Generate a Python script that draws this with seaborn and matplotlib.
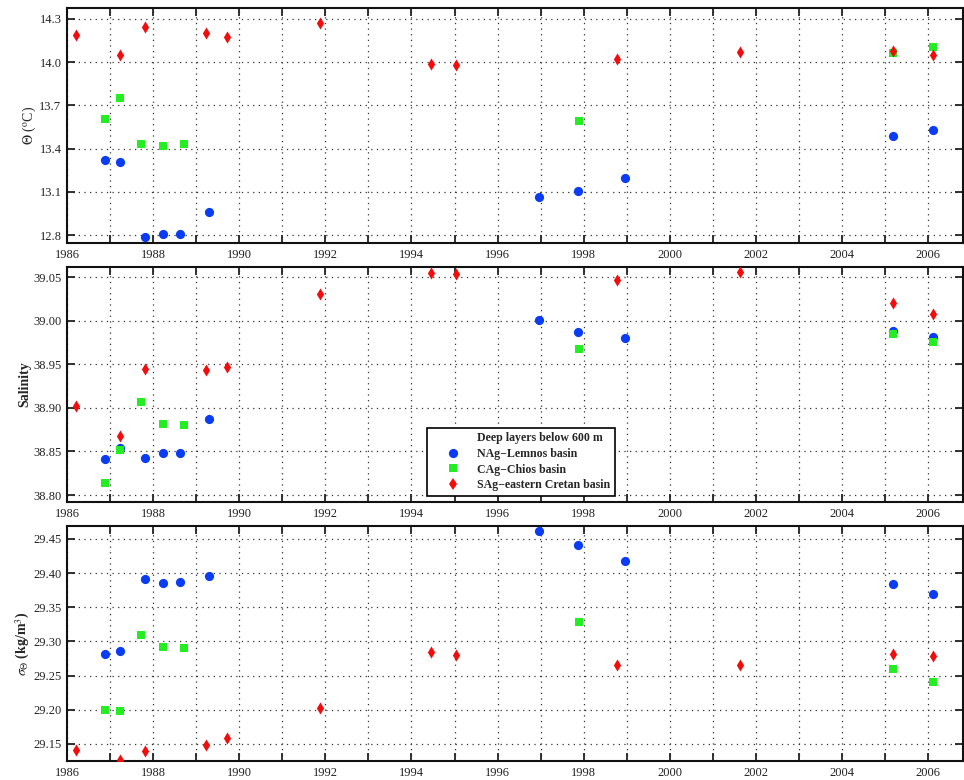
import numpy as np
import pandas as pd
import matplotlib
matplotlib.use("Agg")
import matplotlib.pyplot as plt
from matplotlib.ticker import MultipleLocator, FuncFormatter, FixedLocator
from matplotlib.lines import Line2D
import seaborn as sns

# ---------------- data ----------------
basins = ["NAg\u2212Lemnos basin", "CAg\u2212Chios basin", "SAg\u2212eastern Cretan basin"]

years_blue = [1986.88, 1987.22, 1987.80, 1988.22, 1988.63, 1989.30, 1996.96, 1997.87, 1998.96, 2005.19, 2006.12]
years_green = [1986.88, 1987.22, 1987.71, 1988.22, 1988.71, 1997.88, 2005.19, 2006.12]
years_red = [1986.22, 1987.22, 1987.80, 1989.22, 1989.72, 1991.88, 1994.45, 1995.04, 1998.78, 2001.63, 2005.19, 2006.12]

theta_blue = [13.322, 13.308, 12.789, 12.805, 12.809, 12.959, 13.061, 13.105, 13.195, 13.488, 13.532]
theta_green = [13.608, 13.753, 13.432, 13.421, 13.430, 13.589, 14.062, 14.108]
theta_red = [14.187, 14.053, 14.247, 14.203, 14.178, 14.275, 13.986, 13.977, 14.025, 14.069, 14.078, 14.048]

sal_blue = [38.841, 38.854, 38.843, 38.848, 38.848, 38.887, 39.001, 38.987, 38.980, 38.988, 38.981]
sal_green = [38.814, 38.852, 38.907, 38.882, 38.880, 38.968, 38.985, 38.976]
sal_red = [38.902, 38.868, 38.944, 38.943, 38.947, 39.031, 39.055, 39.053, 39.047, 39.056, 39.020, 39.008]

sig_blue = [29.281, 29.286, 29.391, 29.386, 29.387, 29.396, 29.461, 29.441, 29.418, 29.384, 29.369]
sig_green = [29.200, 29.198, 29.310, 29.292, 29.290, 29.328, 29.259, 29.240]
sig_red = [29.141, 29.126, 29.139, 29.149, 29.159, 29.203, 29.285, 29.280, 29.265, 29.265, 29.282, 29.278]

theta_ticks = [12.8, 13.1, 13.4, 13.7, 14.0, 14.3]
sal_ticks = [38.80, 38.85, 38.90, 38.95, 39.00, 39.05]
sig_ticks = [29.15, 29.20, 29.25, 29.30, 29.35, 29.40, 29.45]

legend_title = "Deep layers below 600 m"
ylabels = [r"$\Theta$ ($^{\rm o}$C)", "Salinity", r"$\sigma_{\Theta}$ (kg/m$^{3}$)"]

# ---------------- build table ----------------
rows = []
for var, series in [("theta", (theta_blue, theta_green, theta_red)),
                    ("sal", (sal_blue, sal_green, sal_red)),
                    ("sig", (sig_blue, sig_green, sig_red))]:
    for b, yrs, vals in zip(basins, (years_blue, years_green, years_red), series):
        for x, v in zip(yrs, vals):
            rows.append({"var": var, "basin": b, "year": x, "value": v})
df = pd.DataFrame(rows)

# ---------------- style ----------------
sns.set_theme(style="ticks")
plt.rcParams["font.family"] = ["Liberation Serif", "DejaVu Serif"]
plt.rcParams["mathtext.fontset"] = "stix"

colors = {basins[0]: "#0A3CF5", basins[1]: "#22EE22", basins[2]: "#F20C0C"}
markers = {basins[0]: "o", basins[1]: "s", basins[2]: "d"}
sizes = {basins[0]: 44, basins[1]: 26, basins[2]: 38}

fig = plt.figure(figsize=(9.64, 7.8), dpi=100)
W = 964.0
H = 780.0
left = 67 / W
width = 896 / W
panels = [(8, 243), (267, 502), (526, 761)]
limits = [(12.745, 14.376), (38.792, 39.0615), (29.125, 29.469)]
ticks = [theta_ticks, sal_ticks, sig_ticks]
fmts = ["%.1f", "%.2f", "%.2f"]
vars_ = ["theta", "sal", "sig"]

for i, (top, bot) in enumerate(panels):
    ax = fig.add_axes([left, 1 - bot / H, width, (bot - top) / H])
    sub = df[df["var"] == vars_[i]]
    for b in basins:
        d = sub[sub["basin"] == b]
        sns.scatterplot(data=d, x="year", y="value", ax=ax, color=colors[b],
                        marker=markers[b], s=sizes[b], linewidth=0, legend=False,
                        zorder=3)
    ax.set_xlim(1986.0, 2006.81)
    ax.set_ylim(*limits[i])
    ax.xaxis.set_major_locator(MultipleLocator(1))
    ax.xaxis.set_major_formatter(FuncFormatter(
        lambda v, p: "%d" % round(v) if round(v) % 2 == 0 else ""))
    ax.yaxis.set_major_locator(FixedLocator(ticks[i]))
    ax.yaxis.set_major_formatter(FuncFormatter(lambda v, p, f=fmts[i]: f % v))
    ax.tick_params(direction="in", top=True, right=True, length=6, width=1.3,
                   labelsize=9, colors="#222222", pad=4)
    ax.grid(True, linestyle=(0, (1, 3.5)), color="#333333", linewidth=0.9)
    for sp in ax.spines.values():
        sp.set_linewidth(1.5)
        sp.set_color("#111111")
    ax.set_xlabel("")
    weight = "normal" if i == 0 else "bold"
    ax.set_ylabel(ylabels[i], fontsize=10, fontweight=weight, labelpad=1)

    if i == 1:
        handles = [Line2D([], [], linestyle="none", marker="", label=legend_title)]
        for b in basins:
            handles.append(Line2D([], [], linestyle="none", marker=markers[b],
                                  color=colors[b], markersize=np.sqrt(sizes[b]) * 1.0,
                                  markeredgewidth=0, label=b))
        leg = ax.legend(handles=handles, loc="lower left",
                        bbox_to_anchor=((427 - 67) / 896, (502 - 496) / 235),
                        frameon=True, fancybox=False, framealpha=1,
                        edgecolor="black", prop={"weight": "bold", "size": 8.6},
                        handlelength=3.5, handletextpad=0.3, borderpad=0.4,
                        labelspacing=0.3, borderaxespad=0)
        leg.get_frame().set_linewidth(1.2)

fig.savefig("out.png", dpi=100)
